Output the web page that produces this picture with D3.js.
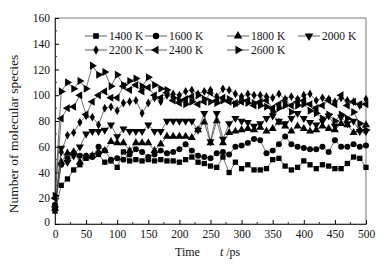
<!DOCTYPE html>
<html>
<head>
<meta charset="utf-8">
<script src="https://cdnjs.cloudflare.com/ajax/libs/d3/7.8.5/d3.min.js"></script>
<style>
  body { margin: 0; background: #fff; }
  text { font-family: "Liberation Serif", "Times New Roman", serif; fill: #111; }
</style>
</head>
<body>
<div id="vis"></div>
<script>
// sampling times (ps)
var times = d3.range(0, 501, 10);

// number of molecular species per temperature
var s1400 = [10,30,35,42,46,51,53,54,48,49,44,56,49,50,49,50,49,50,49,49,48,50,52,48,47,45,44,52,40,48,43,46,42,42,43,50,51,45,42,44,49,46,43,46,45,43,43,47,52,51,44];
var s1600 = [15,46,51,55,53,53,52,60,57,50,51,50,54,58,56,52,54,57,55,56,58,62,57,53,52,51,55,56,54,60,61,63,66,65,55,57,62,68,62,60,59,58,58,60,56,65,60,60,62,60,61];
var s1800 = [12,48,55,56,48,52,53,56,57,64,63,63,57,63,63,63,57,62,68,68,68,68,67,73,79,63,80,63,71,72,73,74,73,75,72,74,79,76,72,76,74,72,73,76,74,73,78,77,71,73,77];
var s2000 = [12,59,48,53,60,70,72,72,73,77,68,74,72,72,72,77,72,72,80,80,80,80,80,73,86,64,86,66,78,82,80,79,76,78,82,84,80,78,82,86,82,79,77,80,84,76,83,78,80,72,72];
var s2200 = [14,56,69,71,79,84,83,77,90,91,88,94,95,96,86,94,98,95,100,101,100,103,104,101,103,104,99,105,104,101,99,101,100,100,99,98,101,97,99,97,100,101,96,98,97,95,98,96,95,92,97];
var s2400 = [20,82,90,91,100,85,95,100,103,98,98,107,104,108,103,106,100,98,102,96,94,97,99,93,95,102,96,98,95,94,95,96,92,95,96,90,93,96,92,95,96,93,90,92,96,93,100,92,95,93,93];
var s2600 = [22,103,110,105,111,105,123,116,118,107,116,108,111,113,107,114,108,105,104,98,96,93,95,100,97,95,94,96,97,93,96,94,94,92,91,87,90,92,87,92,93,88,86,82,85,80,85,82,87,78,73];

var labels = ['1400 K', '1600 K', '1800 K', '2000 K', '2200 K', '2400 K', '2600 K'];
var symbols = [d3.symbolSquare, d3.symbolCircle, 'up', 'down', d3.symbolDiamond, 'left', 'right'];
var allSeries = [s1400, s1600, s1800, s2000, s2200, s2400, s2600];

var xTicks = [0, 50, 100, 150, 200, 250, 300, 350, 400, 450, 500];
var yTicks = [0, 20, 40, 60, 80, 100, 120, 140, 160];

var width = 388, height = 265;
var margin = { top: 18, left: 55, bottom: 41, right: 22 };

var svg = d3.select('#vis').append('svg')
	.attr('width', width)
	.attr('height', height);

var x = d3.scaleLinear().domain([0, 500]).range([margin.left, width - margin.right]);
var y = d3.scaleLinear().domain([0, 160]).range([height - margin.bottom, margin.top]);

// frame
svg.append('rect')
	.attr('x', x(0)).attr('y', y(160))
	.attr('width', x(500) - x(0)).attr('height', y(0) - y(160))
	.attr('fill', 'none').attr('stroke', '#777').attr('stroke-width', 1);

// axes with inward ticks
var xAxis = d3.axisBottom(x).tickValues(xTicks).tickSize(-4).tickPadding(6).tickSizeOuter(0);
var gx = svg.append('g').attr('transform', 'translate(0,' + y(0) + ')').call(xAxis);
gx.selectAll('text').style('font-size', '11.5px');
gx.select('.domain').attr('stroke', '#333');
gx.selectAll('.minor').data(d3.range(25, 500, 50)).enter().append('line')
	.attr('x1', function(d) { return x(d); }).attr('x2', function(d) { return x(d); })
	.attr('y1', 0).attr('y2', -2).attr('stroke', '#333');

var yAxis = d3.axisLeft(y).tickValues(yTicks).tickSize(-4).tickPadding(5).tickSizeOuter(0);
var gy = svg.append('g').attr('transform', 'translate(' + x(0) + ',0)').call(yAxis);
gy.selectAll('text').style('font-size', '11.5px');
gy.select('.domain').attr('stroke', '#333');
gy.selectAll('.minor').data(d3.range(10, 160, 20)).enter().append('line')
	.attr('y1', function(d) { return y(d); }).attr('y2', function(d) { return y(d); })
	.attr('x1', 0).attr('x2', 2).attr('stroke', '#333');
// nudge the y-axis "0" so it does not clash with the x "0"
gy.selectAll('.tick text').filter(function(d) { return d === 0; }).attr('dy', '0.1em');

// axis titles
svg.append('text')
	.attr('transform', 'translate(18,' + 134 + ') rotate(-90)')
	.attr('text-anchor', 'middle')
	.style('font-size', '13.5px')
	.text('Number of molecular species');

var xt = svg.append('text')
	.attr('x', 175).attr('y', 256)
	.style('font-size', '12px');
xt.append('tspan').text('Time');
xt.append('tspan').attr('dx', 20).style('font-style', 'italic').text('t');
xt.append('tspan').text(' /ps');

function symbolPath(s, size) {
	var tri = d3.symbol().type(d3.symbolTriangle).size(size)();
	if (s === 'up') return { d: tri, rot: 0 };
	if (s === 'down') return { d: tri, rot: 180 };
	if (s === 'left') return { d: tri, rot: -90 };
	if (s === 'right') return { d: tri, rot: 90 };
	return { d: d3.symbol().type(s).size(s === d3.symbolDiamond ? size * 0.8 : size)(), rot: 0 };
}

var line = d3.line()
	.x(function(d, i) { return x(times[i]); })
	.y(function(d) { return y(d); });

allSeries.forEach(function(data, k) {
	svg.append('path')
		.datum(data)
		.attr('d', line)
		.attr('fill', 'none')
		.attr('stroke', '#333')
		.attr('stroke-width', 0.7);

	var sp = symbolPath(symbols[k], 28);
	svg.append('g').selectAll('path').data(data).enter().append('path')
		.attr('d', sp.d)
		.attr('transform', function(d, i) {
			return 'translate(' + x(times[i]) + ',' + y(d) + ') rotate(' + sp.rot + ')';
		})
		.attr('fill', '#000');
});

// legend
var legendX = [85, 145, 227, 298, 85, 145, 227];
var legendY = [36, 36, 36, 36, 50, 50, 50];
labels.forEach(function(lab, k) {
	var lg = svg.append('g').attr('transform', 'translate(' + legendX[k] + ',' + legendY[k] + ')');
	lg.append('line').attr('x1', 0).attr('x2', 22).attr('y1', 0).attr('y2', 0)
		.attr('stroke', '#333').attr('stroke-width', 0.8);
	var sp = symbolPath(symbols[k], 32);
	lg.append('path').attr('d', sp.d)
		.attr('transform', 'translate(11,0) rotate(' + sp.rot + ')')
		.attr('fill', '#000');
	lg.append('text').attr('x', 24).attr('y', 4).style('font-size', '11.5px').text(lab);
});
</script>
</body>
</html>
